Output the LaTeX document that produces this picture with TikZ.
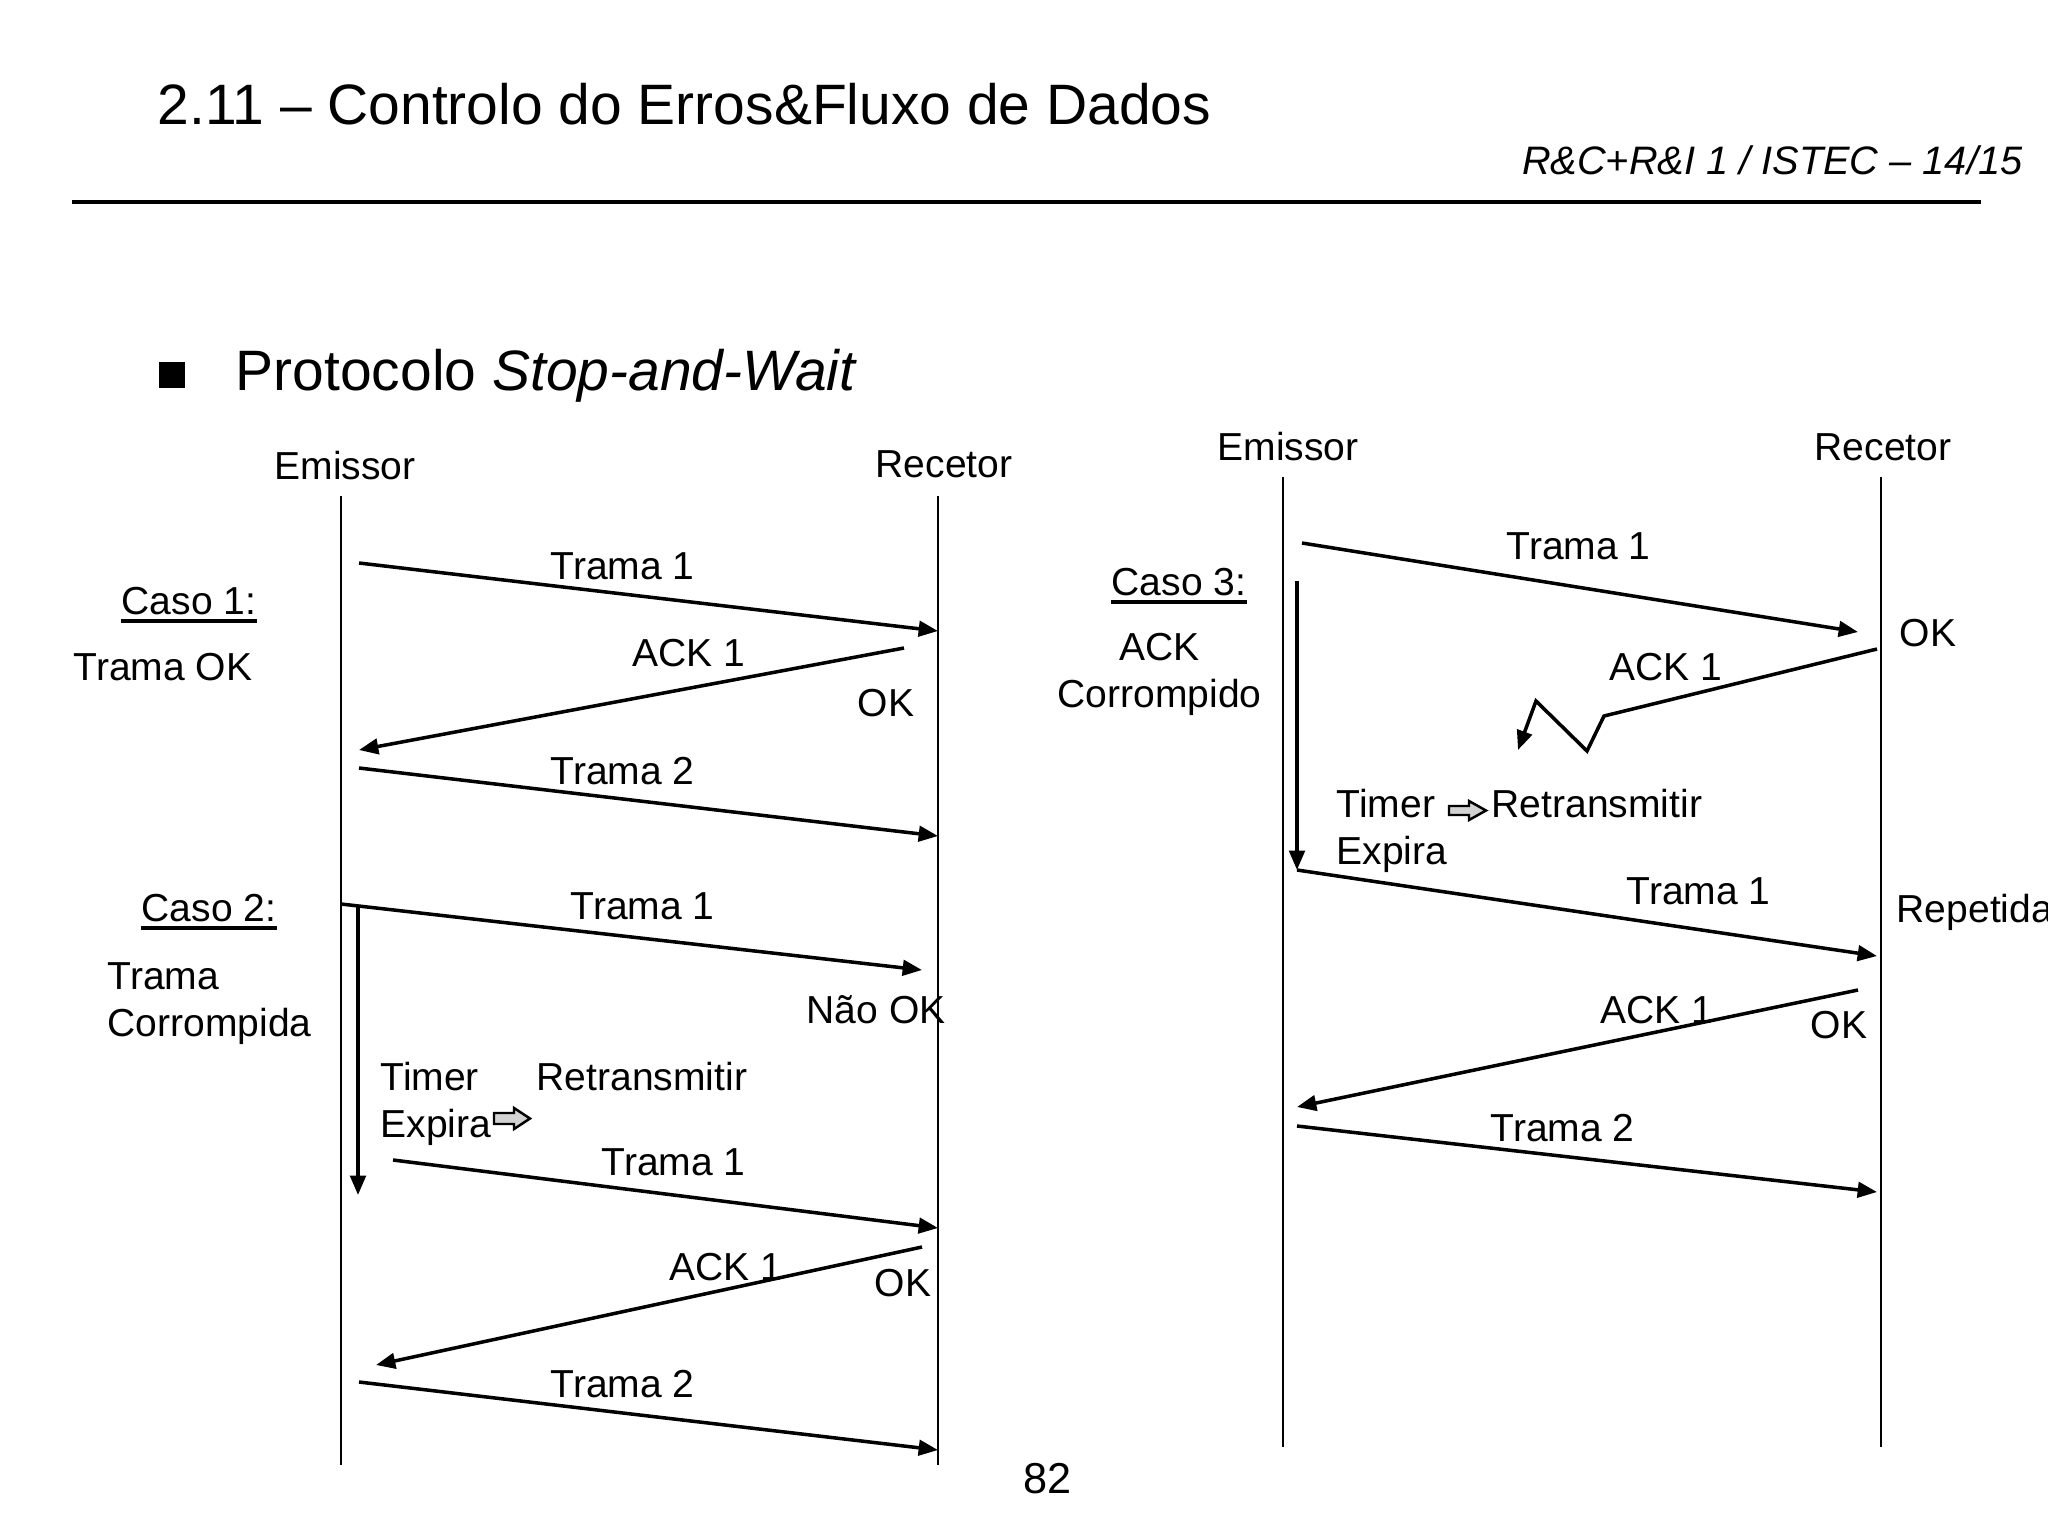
\documentclass[tikz,border=0pt]{standalone}
\usepackage{fontspec}
\setmainfont{Liberation Sans}
\usetikzlibrary{arrows.meta}
\begin{document}
\begin{tikzpicture}[x=0.01cm,y=-0.01cm,
  lbl/.style={inner sep=0pt,anchor=base west,font=\fontsize{11.1pt}{13pt}\selectfont},
  ttl/.style={inner sep=0pt,anchor=base west,font=\fontsize{16.2pt}{19pt}\selectfont},
  hdr/.style={inner sep=0pt,anchor=base east,font=\fontsize{11.3pt}{13pt}\selectfont\itshape},
  pgn/.style={inner sep=0pt,anchor=base west,font=\fontsize{12.3pt}{14pt}\selectfont},
  life/.style={line width=0.7pt},
  msg/.style={line width=1pt,-{Triangle[length=5.5pt,width=4.4pt]}},
  uline/.style={line width=0.9pt},
  blk/.style={fill=gray!35,draw=black,line width=0.7pt}]
\path[use as bounding box] (0,0) rectangle (2048,1536);
\clip (0,0) rectangle (2048,1536);

% header
\node[ttl] (title) at (157,124) {2.11 – Controlo do Erros\&Fluxo de Dados};
\node[hdr] (hdr) at (2023,174) {R\&C+R\&I 1 / ISTEC – 14/15};
\coordinate (rl) at (72,202);
\coordinate (rr) at (1981,202);
\draw[line width=1.1pt] (rl) -- (rr);
\node[fill=black,inner sep=0pt,minimum size=0.26cm] (bul) at (172,375) {};
\node[ttl] (prot) at (235,390) {Protocolo \textit{Stop-and-Wait}};

% ---------------- left diagram ----------------
\node[lbl] (emL) at (274,479) {Emissor};
\node[lbl] (reL) at (875,477) {Recetor};
\coordinate (eLt) at (341,496); \coordinate (eLb) at (341,1465);
\coordinate (rLt) at (938,496); \coordinate (rLb) at (938,1465);
\draw[life] (eLt) -- (eLb);
\draw[life] (rLt) -- (rLb);

\node[lbl] (caso1) at (121,614) {Caso 1:};
\draw[uline] ([yshift=-2pt]caso1.base west) -- ([yshift=-2pt]caso1.base east);
\node[lbl] (tok) at (73,680) {Trama OK};

\coordinate (a1s) at (359,563); \coordinate (a1e) at (938,631);
\draw[msg] (a1s) -- (a1e);
\node[lbl] (a1l) at (550,579) {Trama 1};
\coordinate (a2s) at (904,648); \coordinate (a2e) at (359,750);
\draw[msg] (a2s) -- (a2e);
\node[lbl] (a2l) at (632,666) {ACK 1};
\node[lbl] (ok1) at (857,716) {OK};
\coordinate (a3s) at (359,768); \coordinate (a3e) at (938,836);
\draw[msg] (a3s) -- (a3e);
\node[lbl] (a3l) at (550,784) {Trama 2};

\node[lbl] (caso2) at (141,921) {Caso 2:};
\draw[uline] ([yshift=-2pt]caso2.base west) -- ([yshift=-2pt]caso2.base east);
\node[lbl] (tc1) at (107,989) {Trama};
\node[lbl] (tc2) at (107,1036) {Corrompida};

\coordinate (a4s) at (341,904); \coordinate (a4e) at (922,970);
\draw[msg] (a4s) -- (a4e);
\node[lbl] (a4l) at (570,919) {Trama 1};
\node[lbl] (nok) at (806,1023) {Não OK};
\coordinate (t1s) at (358,905); \coordinate (t1e) at (358,1195);
\draw[msg] (t1s) -- (t1e);
\node[lbl] (tim1) at (380,1090) {Timer};
\node[lbl] (ret1) at (536,1090) {Retransmitir};
\node[lbl] (exp1) at (380,1137) {Expira};
\draw[blk] (494,1113) -- (514,1113) -- (514,1108) -- (530,1118.5) -- (514,1129) -- (514,1124) -- (494,1124) -- cycle;

\coordinate (a5s) at (393,1160); \coordinate (a5e) at (938,1228);
\draw[msg] (a5s) -- (a5e);
\node[lbl] (a5l) at (601,1175) {Trama 1};
\coordinate (a6s) at (922,1247); \coordinate (a6e) at (376,1365);
\draw[msg] (a6s) -- (a6e);
\node[lbl] (a6l) at (669,1280) {ACK 1};
\node[lbl] (ok2) at (874,1296) {OK};
\coordinate (a7s) at (359,1382); \coordinate (a7e) at (938,1450);
\draw[msg] (a7s) -- (a7e);
\node[lbl] (a7l) at (550,1397) {Trama 2};

\node[pgn] (pg) at (1023,1493) {82};

% ---------------- right diagram ----------------
\node[lbl] (emR) at (1217,460) {Emissor};
\node[lbl] (reR) at (1814,460) {Recetor};
\coordinate (eRt) at (1283,477); \coordinate (eRb) at (1283,1447);
\coordinate (rRt) at (1881,477); \coordinate (rRb) at (1881,1447);
\draw[life] (eRt) -- (eRb);
\draw[life] (rRt) -- (rRb);

\node[lbl] (caso3) at (1111,595) {Caso 3:};
\draw[uline] ([yshift=-2pt]caso3.base west) -- ([yshift=-2pt]caso3.base east);
\node[lbl] (ackc1) at (1119,660) {ACK};
\node[lbl] (ackc2) at (1057,707) {Corrompido};

\coordinate (b1s) at (1302,543); \coordinate (b1e) at (1858,632);
\draw[msg] (b1s) -- (b1e);
\node[lbl] (b1l) at (1506,559) {Trama 1};
\node[lbl] (ok3) at (1899,646) {OK};

\coordinate (t2s) at (1297,581); \coordinate (t2e) at (1297,870);
\draw[msg] (t2s) -- (t2e);

\coordinate (b2s) at (1877,649); \coordinate (b2a) at (1604,716);
\coordinate (b2b) at (1587,751); \coordinate (b2c) at (1536,701);
\coordinate (b2e) at (1518,750);
\draw[msg,line join=miter] (b2s) -- (b2a) -- (b2b) -- (b2c) -- (b2e);
\node[lbl] (b2l) at (1609,680) {ACK 1};

\node[lbl] (tim2) at (1336,817) {Timer};
\draw[blk] (1449,806) -- (1469,806) -- (1469,801) -- (1486,810.5) -- (1469,820) -- (1469,815) -- (1449,815) -- cycle;
\node[lbl] (ret2) at (1491,817) {Retransmitir};
\node[lbl] (exp2) at (1336,864) {Expira};

\coordinate (b3s) at (1297,870); \coordinate (b3e) at (1877,956);
\draw[msg] (b3s) -- (b3e);
\node[lbl] (b3l) at (1626,904) {Trama 1};
\node[lbl] (rep) at (1896,922) {Repetida};

\coordinate (b4s) at (1858,990); \coordinate (b4e) at (1297,1107);
\draw[msg] (b4s) -- (b4e);
\node[lbl] (b4l) at (1600,1023) {ACK 1};
\node[lbl] (ok4) at (1810,1038) {OK};

\coordinate (b5s) at (1297,1126); \coordinate (b5e) at (1877,1192);
\draw[msg] (b5s) -- (b5e);
\node[lbl] (b5l) at (1490,1141) {Trama 2};
\end{tikzpicture}
\end{document}
